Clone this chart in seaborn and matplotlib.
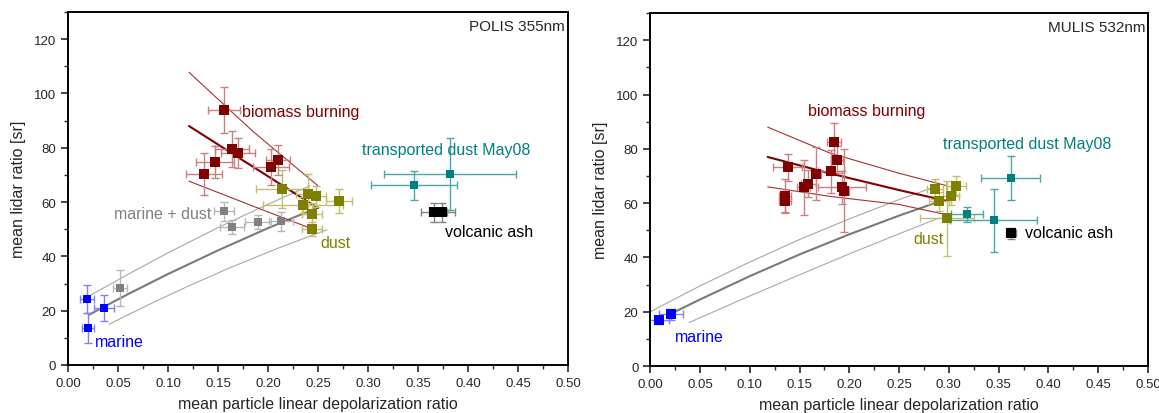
import numpy as np
import pandas as pd
import matplotlib
matplotlib.use("Agg")
import matplotlib.pyplot as plt
from matplotlib.ticker import MultipleLocator, FormatStrFormatter
import seaborn as sns

# ---- POLIS 355nm (left) ----
p_bb_x = [0.136, 0.147, 0.156, 0.164, 0.170, 0.203, 0.210]
p_bb_y = [70.3, 74.7, 93.9, 79.5, 78.0, 72.9, 75.5]
p_bb_xerr = [0.018, 0.019, 0.016, 0.017, 0.017, 0.018, 0.012]
p_bb_yerr = [7.7, 6.0, 8.5, 6.5, 5.5, 6.5, 5.5]

p_md_x = [0.052, 0.156, 0.164, 0.190, 0.213]
p_md_y = [28.3, 56.7, 50.8, 52.6, 53.0]
p_md_xerr = [0.007, 0.010, 0.012, 0.013, 0.012]
p_md_yerr = [6.5, 3.5, 2.5, 2.5, 3.5]

p_mar_x = [0.019, 0.036, 0.020]
p_mar_y = [24.3, 21.0, 13.6]
p_mar_xerr = [0.007, 0.010, 0.006]
p_mar_yerr = [5.3, 4.9, 5.5]

p_dust_x = [0.214, 0.240, 0.248, 0.271, 0.235, 0.244, 0.244]
p_dust_y = [64.8, 62.9, 62.1, 60.4, 59.0, 55.6, 50.0]
p_dust_xerr = [0.026, 0.012, 0.010, 0.013, 0.040, 0.010, 0.010]
p_dust_yerr = [7.0, 7.4, 4.0, 4.5, 3.0, 4.0, 2.5]

p_td_x = [0.382, 0.346]
p_td_y = [70.3, 66.2]
p_td_xerr = [0.066, 0.043]
p_td_yerr = [13.4, 5.3]

p_va_x = [0.366, 0.374]
p_va_y = [56.3, 56.3]
p_va_xerr = [0.013, 0.013]
p_va_yerr = [3.5, 3.5]

# regression line with bands (biomass) and mixing curves (marine-dust)
p_fit_x = [0.121, 0.185, 0.250]
p_fit_mid = [88.0, 73.0, 57.8]
p_fit_up = [107.8, 86.0, 66.0]
p_fit_lo_x = [0.121, 0.185, 0.245]
p_fit_lo = [67.7, 58.5, 50.0]

p_mix_x = [0.021, 0.06, 0.10, 0.15, 0.20, 0.25]
p_mix_mid = [18.5, 26.1, 33.5, 42.2, 50.4, 58.0]
p_mix_up_x = [0.021, 0.06, 0.10, 0.15, 0.20, 0.242]
p_mix_up = [25.4, 33.4, 41.3, 50.6, 59.2, 66.0]
p_mix_lo_x = [0.041, 0.08, 0.12, 0.16, 0.21, 0.259]
p_mix_lo = [15.0, 22.1, 29.0, 35.5, 43.0, 49.8]

# ---- MULIS 532nm (right) ----
m_bb_x = [0.138, 0.135, 0.135, 0.154, 0.159, 0.167, 0.182, 0.185, 0.188, 0.193, 0.195]
m_bb_y = [73.2, 62.7, 60.6, 65.8, 67.2, 70.9, 71.7, 82.5, 76.0, 65.8, 64.6]
m_bb_xerr = [0.0145, 0.006, 0.006, 0.007, 0.008, 0.005, 0.013, 0.007, 0.006, 0.024, 0.005]
m_bb_yerr = [4.9, 6.3, 4.0, 10.0, 5.0, 9.7, 8.0, 7.0, 5.0, 6.0, 15.3]

m_mar_x = [0.009, 0.021]
m_mar_y = [16.8, 19.0]
m_mar_xerr = [0.010, 0.012]
m_mar_yerr = [1.5, 2.0]

m_dust_x = [0.286, 0.307, 0.302, 0.290, 0.298]
m_dust_y = [65.2, 66.4, 62.7, 60.6, 54.4]
m_dust_xerr = [0.008, 0.010, 0.008, 0.010, 0.0275]
m_dust_yerr = [3.5, 3.5, 3.5, 3.5, 13.9]

m_td_x = [0.362, 0.318, 0.345]
m_td_y = [69.3, 55.9, 53.6]
m_td_xerr = [0.030, 0.016, 0.044]
m_td_yerr = [8.0, 2.8, 11.7]

m_va_x = [0.362]
m_va_y = [48.9]
m_va_xerr = [0.005]
m_va_yerr = [2.0]

m_fit_x = [0.118, 0.18, 0.25, 0.298]
m_fit_mid = [77.0, 71.0, 64.8, 60.8]
m_fit_up = [88.0, 78.5, 71.0, 66.4]
m_fit_lo = [66.0, 62.5, 59.5, 55.7]

m_mix_x = [0.025, 0.05, 0.10, 0.15, 0.20, 0.25, 0.29]
m_mix_mid = [20.0, 24.5, 33.1, 41.1, 48.5, 55.4, 60.5]
m_mix_up_x = [0.0, 0.05, 0.10, 0.15, 0.20, 0.25, 0.29]
m_mix_up = [20.0, 29.5, 38.3, 46.6, 54.2, 61.3, 66.5]
m_mix_lo_x = [0.039, 0.093, 0.15, 0.20, 0.25, 0.29]
m_mix_lo = [16.0, 24.7, 33.6, 41.3, 48.7, 54.5]

BB, BB_E = "#800000", "#c98080"
MAR, MAR_E = "#0000ff", "#8080ff"
MD, MD_E = "#808080", "#b8b8b8"
DU, DU_E = "#808000", "#c0c070"
TD, TD_E = "#008080", "#4aa8a8"
VA, VA_E = "#000000", "#808080"

sns.set_style("ticks")
plt.rcParams["font.family"] = ["Liberation Sans", "DejaVu Sans"]


def points(ax, x, y, xerr, yerr, color, ecolor, s=42):
    ax.errorbar(x, y, xerr=xerr, yerr=yerr, fmt="none", ecolor=ecolor,
                elinewidth=1.0, capsize=3, capthick=1.0, zorder=2)
    sns.scatterplot(x=x, y=y, marker="s", s=s, color=color,
                    edgecolor=color, linewidth=0, ax=ax, zorder=3)


def curve(ax, x, y, color, lw):
    df = pd.DataFrame({"x": x, "y": y})
    sns.lineplot(data=df, x="x", y="y", color=color, lw=lw, ax=ax,
                 sort=False, estimator=None, zorder=1)


def style(ax, title):
    ax.set_xlim(0, 0.5)
    ax.set_ylim(0, 130)
    ax.xaxis.set_major_locator(MultipleLocator(0.05))
    ax.xaxis.set_minor_locator(MultipleLocator(0.025))
    ax.yaxis.set_major_locator(MultipleLocator(20))
    ax.yaxis.set_minor_locator(MultipleLocator(10))
    ax.xaxis.set_major_formatter(FormatStrFormatter("%.2f"))
    ax.tick_params(which="major", direction="out", length=5, width=1.2,
                   labelsize=9.5, top=False, right=False)
    ax.tick_params(which="minor", direction="out", length=3, width=1.0,
                   top=False, right=False)
    for sp in ax.spines.values():
        sp.set_linewidth(1.4)
        sp.set_color("black")
    ax.set_xlabel("mean particle linear depolarization ratio", fontsize=11.5, labelpad=5)
    ax.set_ylabel("mean lidar ratio [sr]", fontsize=11.5, labelpad=6)
    ax.text(0.497, 125, title, ha="right", va="center", fontsize=11)


fig = plt.figure(figsize=(11.59, 4.14), dpi=100)
ax1 = fig.add_axes([0.0587, 0.116, 0.4313, 0.8526])
ax2 = fig.add_axes([0.561, 0.1135, 0.4295, 0.8525])

# left panel
curve(ax1, p_mix_x, p_mix_mid, "#7a7a7a", 1.5)
curve(ax1, p_mix_up_x, p_mix_up, "#a8a8a8", 0.8)
curve(ax1, p_mix_lo_x, p_mix_lo, "#a8a8a8", 0.8)
curve(ax1, p_fit_x, p_fit_mid, BB, 1.5)
curve(ax1, p_fit_x, p_fit_up, "#a83030", 0.8)
curve(ax1, p_fit_lo_x, p_fit_lo, "#a83030", 0.8)
points(ax1, p_md_x, p_md_y, p_md_xerr, p_md_yerr, MD, MD_E, s=30)
points(ax1, p_mar_x, p_mar_y, p_mar_xerr, p_mar_yerr, MAR, MAR_E, s=30)
points(ax1, p_dust_x, p_dust_y, p_dust_xerr, p_dust_yerr, DU, DU_E)
points(ax1, p_bb_x, p_bb_y, p_bb_xerr, p_bb_yerr, BB, BB_E)
points(ax1, p_td_x, p_td_y, p_td_xerr, p_td_yerr, TD, TD_E, s=36)
points(ax1, p_va_x, p_va_y, p_va_xerr, p_va_yerr, VA, VA_E)
ax1.text(0.174, 93.5, "biomass burning", color=BB, fontsize=11.5, va="center")
ax1.text(0.294, 79.5, "transported dust May08", color=TD, fontsize=11.5, va="center")
ax1.text(0.143, 55.8, "marine + dust", color=MD, fontsize=11.5, va="center", ha="right")
ax1.text(0.252, 45.0, "dust", color=DU, fontsize=11.5, va="center")
ax1.text(0.377, 49.3, "volcanic ash", color=VA, fontsize=11.5, va="center")
ax1.text(0.027, 8.5, "marine", color=MAR, fontsize=11.5, va="center")
style(ax1, "POLIS 355nm")

# right panel
curve(ax2, m_mix_x, m_mix_mid, "#7a7a7a", 1.5)
curve(ax2, m_mix_up_x, m_mix_up, "#a8a8a8", 0.8)
curve(ax2, m_mix_lo_x, m_mix_lo, "#a8a8a8", 0.8)
curve(ax2, m_fit_x, m_fit_mid, BB, 1.5)
curve(ax2, m_fit_x, m_fit_up, "#a83030", 0.8)
curve(ax2, m_fit_x, m_fit_lo, "#a83030", 0.8)
points(ax2, m_mar_x, m_mar_y, m_mar_xerr, m_mar_yerr, MAR, MAR_E)
points(ax2, m_bb_x, m_bb_y, m_bb_xerr, m_bb_yerr, BB, BB_E)
points(ax2, m_dust_x, m_dust_y, m_dust_xerr, m_dust_yerr, DU, DU_E)
points(ax2, m_td_x, m_td_y, m_td_xerr, m_td_yerr, TD, TD_E, s=36)
points(ax2, m_va_x, m_va_y, m_va_xerr, m_va_yerr, VA, VA_E)
ax2.text(0.158, 94.0, "biomass burning", color=BB, fontsize=11.5, va="center")
ax2.text(0.294, 82.0, "transported dust May08", color=TD, fontsize=11.5, va="center")
ax2.text(0.264, 47.0, "dust", color=DU, fontsize=11.5, va="center")
ax2.text(0.376, 49.0, "volcanic ash", color=VA, fontsize=11.5, va="center")
ax2.text(0.025, 10.7, "marine", color=MAR, fontsize=11.5, va="center")
style(ax2, "MULIS 532nm")

fig.savefig("out.png", dpi=100)
